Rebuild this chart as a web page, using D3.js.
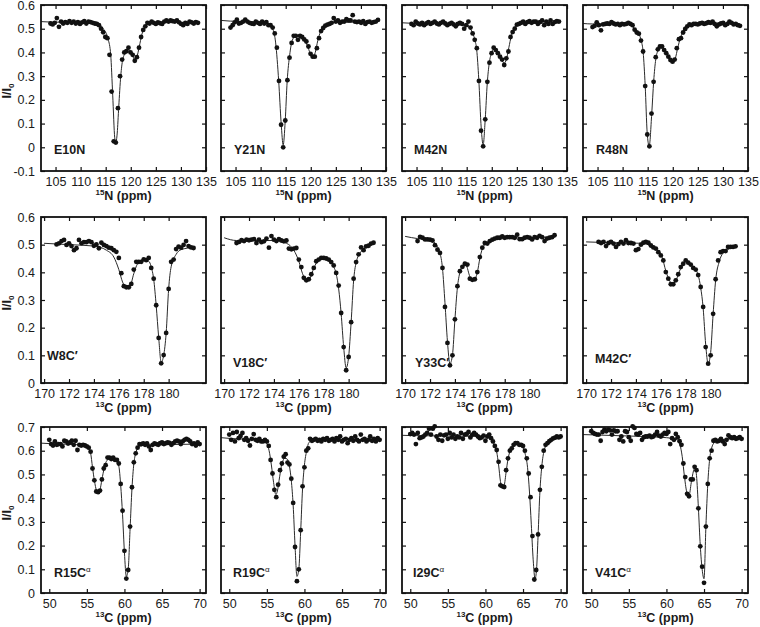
<!DOCTYPE html>
<html>
<head><meta charset="utf-8">
<title>CEST profiles</title>
<style>
body { margin:0; background:#fff; }
svg text { font-family: Arial, "Liberation Sans", sans-serif; fill:#1a1a1a; }
</style>
</head>
<body>
<svg width="760" height="627"></svg>
<script src="https://d3js.org/d3.v7.min.js"></script>
<script>
// offsets (ppm) shared by every residue of one nucleus type
var offsetsN = [104.0,104.42,104.84,105.26,105.68,106.1,106.52,106.94,107.36,107.78,108.2,108.62,109.04,109.46,109.88,110.3,110.72,111.14,111.56,111.98,
  112.4,112.82,113.24,113.66,114.08,114.5,114.92,115.34,115.76,116.18,116.6,117.02,117.44,117.86,118.28,118.7,119.12,119.54,119.96,120.38,
  120.8,121.22,121.64,122.06,122.48,122.9,123.32,123.74,124.16,124.58,125.0,125.42,125.84,126.26,126.68,127.1,127.52,127.94,128.36,128.78,
  129.2,129.62,130.04,130.46,130.88,131.3,131.72,132.14,132.56,132.98,133.4];
var offsetsCO = [171.0,171.2,171.4,171.6,171.8,172.0,172.2,172.4,172.6,172.8,173.0,173.2,173.4,173.6,173.8,174.0,174.2,174.4,174.6,174.8,
  175.0,175.2,175.4,175.6,175.8,176.0,176.2,176.4,176.6,176.8,177.0,177.2,177.4,177.6,177.8,178.0,178.2,178.4,178.6,178.8,
  179.0,179.2,179.4,179.6,179.8,180.0,180.2,180.4,180.6,180.8,181.0,181.2,181.4,181.6,181.8,182.0];
var offsetsCA = [50.0,50.25,50.5,50.75,51.0,51.25,51.5,51.75,52.0,52.25,52.5,52.75,53.0,53.25,53.5,53.75,54.0,54.25,54.5,54.75,
  55.0,55.25,55.5,55.75,56.0,56.25,56.5,56.75,57.0,57.25,57.5,57.75,58.0,58.25,58.5,58.75,59.0,59.25,59.5,59.75,
  60.0,60.25,60.5,60.75,61.0,61.25,61.5,61.75,62.0,62.25,62.5,62.75,63.0,63.25,63.5,63.75,64.0,64.25,64.5,64.75,
  65.0,65.25,65.5,65.75,66.0,66.25,66.5,66.75,67.0,67.25,67.5,67.75,68.0,68.25,68.5,68.75,69.0,69.25,69.5,69.75,70.0];

// measured I/I0
var E10N = [.522,.518,.525,.545,.508,.530,.522,.528,.525,.532,.525,.530,.522,.528,.520,.527,.532,.522,.530,.528,.525,.522,.520,
  .515,.500,.485,.465,.460,.390,.235,.025,.020,.165,.300,.370,.400,.405,.420,.400,.390,.365,.380,.420,.465,.495,.510,.525,
  .522,.530,.525,.520,.527,.523,.520,.530,.535,.530,.535,.532,.530,.535,.527,.520,.515,.525,.520,.530,.527,.522,.528,.525];
var Y21N = [.505,.515,.527,.538,.522,.525,.530,.538,.530,.525,.522,.520,.530,.525,.520,.530,.522,.528,.515,
  .515,.505,.480,.420,.280,.095,.000,.113,.283,.378,.440,.470,.470,.453,.470,.465,.455,.446,.425,.394,.382,.382,.418,.460,.490,.503,.513,.517,.520,.525,.545,
  .530,.535,.525,.530,.530,.540,.535,.535,.557,.530,.528,.530,.525,.532,.520,.528,.530,.525,.528,.530,.537];
var M42N = [.520,.515,.530,.522,.518,.525,.515,.522,.528,.520,.525,.530,.522,.518,.525,.530,.522,.515,.520,.525,.518,.510,.520,.525,.520,.500,.515,.530,.505,
  .480,.453,.418,.280,.070,.004,.118,.276,.357,.397,.420,.410,.397,.382,.370,.347,.375,.404,.465,.486,.500,.517,.520,
  .525,.530,.520,.528,.532,.525,.530,.530,.520,.528,.535,.515,.530,.520,.535,.520,.528,.532,.530];
var R48N = [.507,.512,.527,.515,.493,.518,.520,.522,.520,.528,.522,.518,.520,.515,.520,.518,.520,.525,.520,
  .515,.496,.484,.479,.450,.404,.258,.054,.004,.142,.276,.380,.413,.425,.425,.410,.397,.382,.368,.361,.370,.418,.456,.460,.484,.499,.510,.518,
  .515,.520,.520,.518,.522,.525,.520,.523,.528,.525,.530,.520,.510,.518,.522,.525,.515,.520,.530,.525,.518,.520,.515,.512];

var W8C = [.501,.505,.513,.517,.499,.505,.495,.480,.487,.517,.505,.509,.509,.513,.509,.496,.501,.487,.507,.499,
  .495,.489,.487,.480,.474,.452,.397,.350,.346,.346,.358,.410,.438,.438,.438,.447,.444,.452,.416,.377,
  .281,.163,.071,.101,.181,.340,.438,.446,.484,.493,.489,.499,.513,.495,.490,.488];
var V18C = [.506,.510,.516,.513,.518,.516,.518,.520,.506,.518,.509,.512,.522,.489,.531,.518,.513,.520,.515,.512,
  .515,.486,.483,.486,.488,.446,.419,.380,.371,.375,.393,.416,.440,.446,.452,.452,.450,.446,.437,.425,
  .398,.352,.253,.130,.046,.094,.220,.377,.437,.465,.490,.480,.494,.496,.504,.507];
var Y33C = [.513,.528,.525,.519,.519,.518,.515,.498,.482,.470,.416,.275,.145,.064,.100,.230,.350,.404,.420,.431,
  .428,.377,.373,.375,.401,.455,.489,.506,.504,.513,.518,.522,.525,.525,.530,.525,.527,.527,.527,.525,
  .536,.520,.520,.525,.527,.525,.519,.527,.525,.532,.527,.513,.522,.525,.527,.534];
var M42C = [.510,.506,.510,.495,.506,.510,.504,.492,.502,.510,.504,.516,.506,.506,.504,.480,.484,.500,.507,.510,
  .507,.497,.490,.486,.473,.461,.443,.401,.377,.357,.357,.371,.393,.419,.431,.443,.435,.428,.416,.410,
  .390,.347,.275,.130,.070,.100,.250,.375,.443,.473,.477,.477,.492,.492,.492,.494];

var R15CA = [.646,.628,.622,.639,.625,.628,.628,.618,.642,.639,.630,.635,.642,.625,.642,.603,.625,.622,.625,.622,.618,.613,
  .596,.525,.475,.428,.425,.432,.479,.525,.539,.571,.571,.565,.571,.561,.561,.546,.460,.347,.178,.061,.097,.280,.446,.551,.589,.613,
  .628,.628,.631,.625,.631,.618,.603,.625,.631,.628,.625,.632,.635,.628,.632,.635,.633,.625,.632,.639,.642,.639,.628,.639,
  .646,.650,.646,.639,.628,.631,.622,.635,.628];
var R19CA = [.668,.646,.675,.639,.679,.653,.662,.675,.646,.653,.642,.622,.650,.670,.646,.642,.650,.639,.639,.646,.639,.620,
  .561,.504,.435,.404,.457,.518,.546,.575,.585,.550,.542,.482,.380,.194,.050,.100,.265,.450,.530,.600,.610,.650,
  .642,.646,.650,.642,.646,.639,.650,.646,.653,.642,.646,.650,.639,.653,.646,.660,.639,.646,.650,.632,.646,.653,.642,.660,
  .646,.639,.668,.646,.650,.639,.646,.660,.642,.650,.639,.653,.646];
var I29CA = [.670,.675,.668,.628,.675,.653,.656,.660,.668,.675,.693,.668,.693,.703,.660,.646,.668,.642,.665,.668,.650,.675,
  .656,.668,.650,.660,.656,.675,.650,.668,.671,.679,.656,.668,.675,.668,.660,.653,.656,.664,.642,.660,.668,.653,
  .639,.620,.603,.553,.454,.450,.447,.518,.568,.600,.610,.625,.632,.632,.625,.625,.620,.600,.568,.504,.404,.240,.057,.097,
  .247,.435,.532,.600,.625,.632,.640,.646,.652,.655,.660,.656,.660];
var V41CA = [.682,.675,.671,.668,.668,.642,.679,.689,.682,.689,.686,.668,.686,.682,.682,.646,.660,.639,.682,.679,
  .657,.642,.703,.696,.671,.668,.675,.646,.657,.660,.660,.664,.657,.660,.668,.679,.664,.660,.668,.675,
  .671,.679,.628,.653,.646,.671,.657,
  .640,.625,.546,.489,.418,.408,.479,.479,.532,.518,.357,.197,.111,.043,.280,.460,.568,.600,.642,.646,.639,.642,.650,.639,
  .628,.646,.665,.657,.653,.657,.650,.653,.657,.650];

// fitted curves, [ppm, I/I0]
var fitE10N = [[102.1,.530],[104,.528],[110,.526],[113,.522],[114.5,.500],[115.5,.455],[116.0,.390],[116.4,.220],[116.8,.040],[117.0,.020],
  [117.3,.060],[117.6,.170],[118.0,.300],[118.4,.370],[119.0,.400],[119.6,.410],[120.2,.395],[120.8,.370],[121.2,.380],[121.7,.425],
  [122.2,.475],[122.8,.510],[123.5,.522],[125,.525],[133.4,.527]];
var fitY21N = [[102.1,.535],[104,.532],[110,.528],[111.5,.520],[112.4,.500],[113.0,.440],[113.6,.280],[114.1,.100],[114.5,.010],[114.9,.110],
  [115.3,.280],[115.8,.390],[116.3,.450],[117.0,.470],[117.8,.468],[118.6,.455],[119.3,.430],[119.9,.395],[120.4,.380],[120.9,.400],
  [121.4,.450],[122.0,.490],[122.8,.515],[124,.525],[133.4,.530]];
var fitM42N = [[102.1,.525],[104,.523],[110,.522],[115,.515],[116.0,.490],[116.6,.455],[117.0,.410],[117.4,.290],[117.9,.080],[118.28,.010],
  [118.7,.120],[119.1,.270],[119.5,.355],[120.0,.400],[120.5,.415],[121.0,.405],[121.6,.385],[122.2,.360],[122.5,.355],[122.9,.370],
  [123.4,.420],[123.9,.470],[124.5,.505],[125.5,.520],[133.4,.525]];
var fitR48N = [[102.1,.522],[104,.520],[111,.520],[112.4,.500],[113.2,.480],[113.7,.450],[114.1,.400],[114.5,.260],[114.9,.060],[115.3,.005],
  [115.8,.140],[116.2,.280],[116.6,.370],[117.1,.410],[117.7,.425],[118.3,.415],[119.0,.390],[119.6,.370],[120.1,.362],[120.5,.375],
  [121.0,.420],[121.5,.460],[122.1,.490],[122.8,.510],[124,.518],[133.4,.520]];
var fitW8C = [[170,.505],[172,.500],[174,.495],[175,.480],[175.6,.455],[176.0,.410],[176.3,.365],[176.6,.345],[176.9,.350],[177.2,.395],
  [177.5,.430],[178.0,.443],[178.4,.440],[178.6,.420],[178.8,.375],[179.0,.280],[179.2,.165],[179.4,.075],[179.6,.100],[179.8,.180],
  [180.0,.340],[180.2,.420],[180.6,.465],[181.0,.482],[182,.490]];
var fitV18C = [[170,.525],[171,.515],[174,.515],[175,.505],[175.6,.480],[176.0,.440],[176.3,.395],[176.6,.372],[176.9,.380],[177.2,.415],
  [177.6,.445],[178.0,.452],[178.4,.445],[178.8,.420],[179.0,.395],[179.2,.340],[179.4,.250],[179.6,.130],[179.8,.055],[180.0,.095],
  [180.2,.220],[180.4,.370],[180.6,.435],[181.0,.475],[181.5,.492],[182,.502]];
var fitY33C = [[170,.530],[171,.522],[172,.518],[172.4,.505],[172.8,.470],[173.0,.415],[173.2,.290],[173.4,.150],[173.6,.070],[173.8,.100],
  [174.0,.230],[174.2,.345],[174.4,.400],[174.7,.428],[174.9,.425],[175.2,.385],[175.5,.372],[175.8,.400],[176.0,.450],[176.2,.485],
  [176.5,.505],[177,.515],[178,.522],[182,.528]];
var fitM42C = [[170,.510],[172,.507],[174.5,.505],[175.2,.495],[175.8,.475],[176.1,.455],[176.4,.405],[176.7,.370],[176.9,.357],[177.2,.370],
  [177.6,.415],[178.0,.440],[178.4,.428],[178.8,.410],[179.0,.390],[179.2,.345],[179.4,.270],[179.6,.140],[179.8,.070],[180.0,.110],
  [180.2,.250],[180.4,.370],[180.7,.440],[181.0,.470],[181.5,.485],[182,.492]];
var fitR15CA = [[48.9,.632],[50,.630],[54.5,.624],[55.2,.612],[55.5,.590],[55.75,.530],[56.0,.475],[56.3,.430],[56.5,.422],[56.75,.435],
  [57.0,.478],[57.3,.525],[57.6,.555],[58.0,.565],[58.6,.562],[59.0,.550],[59.25,.535],[59.5,.455],[59.75,.330],[60.0,.170],
  [60.25,.070],[60.5,.100],[60.75,.270],[61.0,.440],[61.25,.545],[61.5,.590],[61.8,.612],[62.5,.622],[70,.628]];
var fitR19CA = [[48.9,.655],[50,.652],[54.5,.645],[55.0,.630],[55.3,.600],[55.6,.540],[55.9,.465],[56.2,.415],[56.4,.430],[56.7,.490],
  [57.0,.545],[57.4,.568],[57.7,.565],[58.0,.535],[58.25,.475],[58.5,.370],[58.75,.200],[59.0,.070],[59.25,.100],[59.5,.260],
  [59.75,.440],[60.0,.540],[60.3,.600],[60.6,.635],[61.2,.645],[70,.648]];
var fitI29CA = [[48.9,.665],[50,.664],[60,.660],[60.7,.648],[61.2,.625],[61.5,.595],[61.75,.540],[62.0,.470],[62.25,.445],[62.5,.455],
  [62.75,.510],[63.0,.565],[63.3,.600],[63.8,.622],[64.2,.628],[64.6,.625],[65.0,.612],[65.3,.585],[65.6,.530],[65.85,.430],
  [66.1,.290],[66.35,.140],[66.6,.060],[66.8,.100],[67.0,.240],[67.25,.430],[67.5,.535],[67.8,.600],[68.2,.628],[69,.645],[70,.655]];
var fitV41CA = [[48.9,.668],[50,.667],[55,.662],[60,.655],[61.5,.645],[61.8,.625],[62.1,.575],[62.4,.490],[62.75,.420],[63.0,.410],
  [63.3,.465],[63.6,.515],[63.8,.530],[64.0,.495],[64.25,.360],[64.5,.200],[64.75,.100],[65.0,.060],[65.25,.280],[65.5,.460],
  [65.75,.565],[66.0,.610],[66.4,.635],[67,.645],[70,.652]];

// axes per row
var xTicksN = [105,110,115,120,125,130,135];
var xTicksCO = [170,172,174,176,178,180];
var xTicksCA = [50,55,60,65,70];
var yTicksN = [-0.1,0,0.1,0.2,0.3,0.4,0.5,0.6];
var yTicksCO = [0,0.1,0.2,0.3,0.4,0.5,0.6];
var yTicksCA = [0,0.1,0.2,0.3,0.4,0.5,0.6,0.7];

var rows = [
  {offsets: offsetsN, xdom: [102.1, 135], xticks: xTicksN, ydom: [-0.1, 0.6], yticks: yTicksN, mass: "15", atom: "N"},
  {offsets: offsetsCO, xdom: [169.75, 183], xticks: xTicksCO, ydom: [0, 0.6], yticks: yTicksCO, mass: "13", atom: "C"},
  {offsets: offsetsCA, xdom: [48.9, 70.85], xticks: xTicksCA, ydom: [0, 0.7], yticks: yTicksCA, mass: "13", atom: "C"}
];

var panels = [
  {row:0, col:0, name:"E10N", sup:"", data:E10N, fit:fitE10N, lx:13, ly:149},
  {row:0, col:1, name:"Y21N", sup:"", data:Y21N, fit:fitY21N, lx:13, ly:149},
  {row:0, col:2, name:"M42N", sup:"", data:M42N, fit:fitM42N, lx:12, ly:149},
  {row:0, col:3, name:"R48N", sup:"", data:R48N, fit:fitR48N, lx:13, ly:149},
  {row:1, col:0, name:"W8C\u2032", sup:"", data:W8C, fit:fitW8C, lx:6, ly:143},
  {row:1, col:1, name:"V18C\u2032", sup:"", data:V18C, fit:fitV18C, lx:12, ly:150},
  {row:1, col:2, name:"Y33C\u2032", sup:"", data:Y33C, fit:fitY33C, lx:13, ly:150},
  {row:1, col:3, name:"M42C\u2032", sup:"", data:M42C, fit:fitM42C, lx:12, ly:146},
  {row:2, col:0, name:"R15C", sup:"\u03b1", data:R15CA, fit:fitR15CA, lx:13, ly:150},
  {row:2, col:1, name:"R19C", sup:"\u03b1", data:R19CA, fit:fitR19CA, lx:12, ly:150},
  {row:2, col:2, name:"I29C", sup:"\u03b1", data:I29CA, fit:fitI29CA, lx:11, ly:150},
  {row:2, col:3, name:"V41C", sup:"\u03b1", data:V41CA, fit:fitV41CA, lx:12, ly:150}
];

var svg = d3.select("svg");
var colLeft = [41, 221, 402, 583], rowTop = [5, 217, 427];
var pw = 165, ph = 166;

panels.forEach(function(p) {
  var r = rows[p.row];
  var g = svg.append("g").attr("transform", "translate(" + colLeft[p.col] + "," + rowTop[p.row] + ")");
  var x = d3.scaleLinear().domain(r.xdom).range([0, pw]);
  var y = d3.scaleLinear().domain(r.ydom).range([ph, 0]);

  var fmt = function(d) { return d === 0 ? "0" : d.toFixed(1); };

  g.append("g").attr("class", "axis").attr("transform", "translate(0," + ph + ")")
    .call(d3.axisBottom(x).tickValues(r.xticks).tickSize(-4).tickPadding(6).tickFormat(d3.format("d")));
  g.append("g").attr("class", "axis")
    .call(d3.axisTop(x).tickValues(r.xticks).tickSize(-4).tickFormat(""));
  g.append("g").attr("class", "axis")
    .call(d3.axisLeft(y).tickValues(r.yticks).tickSize(-4).tickPadding(6).tickFormat(p.col === 0 ? fmt : ""));
  g.append("g").attr("class", "axis").attr("transform", "translate(" + pw + ",0)")
    .call(d3.axisRight(y).tickValues(r.yticks).tickSize(-4).tickFormat(""));
  g.selectAll(".axis .domain").remove();
  g.selectAll(".axis line").attr("stroke", "#111").attr("stroke-width", 1.2);
  g.selectAll(".axis text").attr("font-size", 12.5).attr("fill", "#1a1a1a")
    .attr("font-family", "Arial, 'Liberation Sans', sans-serif");

  // fitted line
  var line = d3.line().x(function(d) { return x(d[0]); }).y(function(d) { return y(d[1]); })
    .curve(d3.curveMonotoneX);
  g.append("path").datum(p.fit).attr("d", line)
    .attr("fill", "none").attr("stroke", "#2a2a2a").attr("stroke-width", 1);

  // measured points
  g.selectAll("circle.pt").data(p.data).enter().append("circle")
    .attr("class", "pt")
    .attr("cx", function(d, i) { return x(r.offsets[i]); })
    .attr("cy", function(d) { return y(d); })
    .attr("r", 2.4).attr("fill", "#111");

  // frame
  g.append("rect").attr("width", pw).attr("height", ph)
    .attr("fill", "none").attr("stroke", "#111").attr("stroke-width", 1.8);

  // residue label
  var t = g.append("text").attr("x", p.lx).attr("y", p.ly)
    .attr("font-size", 12.5).attr("font-weight", "bold").text(p.name);
  if (p.sup) {
    t.append("tspan").attr("dy", -5).attr("font-size", 8).attr("font-weight", "normal").text(p.sup);
  }

  // x title
  var xt = g.append("text").attr("x", pw / 2).attr("y", ph + 29)
    .attr("text-anchor", "middle").attr("font-size", 12.5).attr("font-weight", "bold");
  xt.append("tspan").attr("font-size", 8).attr("dy", -5).text(r.mass);
  xt.append("tspan").attr("dy", 5).text(r.atom + " (ppm)");

  // y title
  if (p.col === 0) {
    var yt = g.append("text")
      .attr("transform", "translate(" + (-30) + "," + (ph / 2 + 3) + ") rotate(-90)")
      .attr("text-anchor", "middle").attr("font-size", 12.5).attr("font-weight", "bold");
    yt.append("tspan").text("I/I");
    yt.append("tspan").attr("font-size", 8).attr("dy", 3).text("0");
  }
});
</script>
</body>
</html>
